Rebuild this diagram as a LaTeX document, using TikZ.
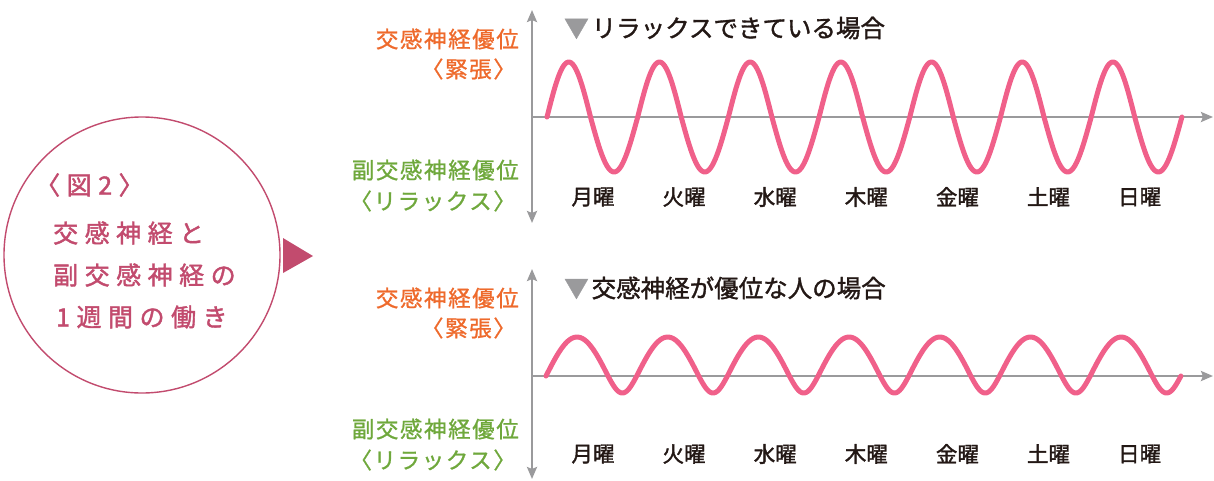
\documentclass[tikz,border=0pt]{standalone}
\usepackage{fontspec}
\setmainfont{Noto Sans CJK JP}
\usetikzlibrary{arrows.meta}
\definecolor{orangeL}{HTML}{EE6A2C}
\definecolor{greenL}{HTML}{6FA83C}
\definecolor{pinkW}{HTML}{F0608A}
\definecolor{axisG}{HTML}{9A9A9C}
\definecolor{circC}{HTML}{C24B6E}
\definecolor{txtK}{HTML}{231815}
\begin{document}
\begin{tikzpicture}[x=1pt,y=-1pt,
  axisline/.style={draw=axisG, line width=2.4pt},
  tips/.style={arrows={-Stealth[length=12pt,width=10pt,inset=2pt]}},
  dtips/.style={arrows={Stealth[length=12pt,width=10pt,inset=2pt]-Stealth[length=12pt,width=10pt,inset=2pt]}},
  wave/.style={draw=pinkW, line width=5pt, line cap=round, line join=round},
  lbl/.style={anchor=east, inner sep=0pt, font=\fontsize{22.5}{22.5}\selectfont\addfontfeature{LetterSpace=7,FakeBold=1}},
  lblO/.style={lbl, text=orangeL},
  lblG/.style={lbl, text=greenL},
  day/.style={inner sep=0pt, text=txtK, font=\fontsize{21.5}{21.5}\selectfont\addfontfeature{FakeBold=1.6}},
  ttl/.style={anchor=west, inner sep=0pt, text=txtK, font=\fontsize{24.5}{24.5}\selectfont\addfontfeature{FakeBold=1.4}},
  ctext/.style={anchor=west, inner sep=0pt, text=circC, font=\fontsize{25}{25}\selectfont\addfontfeature{LetterSpace=26,FakeBold=1.6}}
]
\useasboundingbox (0,0) rectangle (1214,480);

% circle with title
\node[circle, draw=circC, line width=1.4pt, fill=white, minimum size=276pt, inner sep=0pt] (circ) at (142,255) {};
\fill[circC] (283,238) -- (313,256) -- (283,273) -- cycle;
\node[ctext] (c0) at (35,185) {〈図2〉};
\node[ctext] (c1) at (53,233) {交感神経と};
\node[ctext] (c2) at (53,275) {副交感神経の};
\node[ctext] (c3) at (56,317) {1週間の働き};

% ---------- top chart ----------
\coordinate (t0) at (532,117);
\coordinate (tx) at (1213,117);
\coordinate (tt) at (532,10);
\coordinate (tb) at (532,223);
\draw[axisline, dtips] (tb) -- (tt);
\draw[axisline, tips] (t0) -- (tx);
\draw[wave] (547,117) \foreach \k in {0,...,6}{
  -- plot[domain=0:180,samples=30] ({547+90.7*\k+\x/180*43.5},{117-55*sin(\x)})
  -- plot[domain=0:180,samples=30] ({547+90.7*\k+43.5+\x/180*47.2},{117+55*sin(\x)})
};
\node[ttl] (title1) at (564,28) {{\color{axisG}▼}\hspace{3pt}リラックスできている場合};
\node[lblO] (o1a) at (519,39) {交感神経優位};
\node[lblO] (o1b) at (516,69) {〈緊張〉};
\node[lblG] (g1a) at (519,170) {副交感神経優位};
\node[lblG] (g1b) at (516,201) {〈リラックス〉};
\foreach \d [count=\i from 0] in {月,火,水,木,金,土,日}{
  \node[day] (d1\i) at ({593+91.1*\i},197) {\d 曜};
}

% ---------- bottom chart ----------
\coordinate (b0) at (532,376);
\coordinate (bx) at (1213,376);
\coordinate (bt) at (532,269);
\coordinate (bb) at (532,479);
\draw[axisline, dtips] (bb) -- (bt);
\draw[axisline, tips] (b0) -- (bx);
\draw[wave] (546,376) \foreach \k in {0,...,6}{
  -- plot[domain=0:180,samples=30] ({546+90.7*\k+\x/180*62},{376-39*sin(\x)})
  -- plot[domain=0:180,samples=30] ({546+90.7*\k+62+\x/180*28.7},{376+17*sin(\x)})
};
\node[ttl] (title2) at (564,288) {{\color{axisG}▼}\hspace{3pt}交感神経が優位な人の場合};
\node[lblO] (o2a) at (519,298) {交感神経優位};
\node[lblO] (o2b) at (516,328) {〈緊張〉};
\node[lblG] (g2a) at (519,429) {副交感神経優位};
\node[lblG] (g2b) at (516,460) {〈リラックス〉};
\foreach \d [count=\i from 0] in {月,火,水,木,金,土,日}{
  \node[day] (d2\i) at ({593+91.1*\i},454) {\d 曜};
}
\end{tikzpicture}
\end{document}
